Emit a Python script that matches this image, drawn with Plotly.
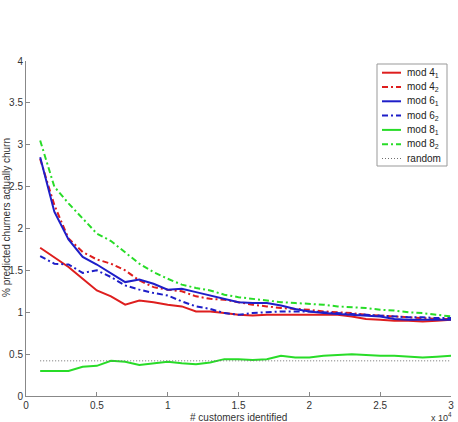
import plotly.graph_objects as go

customers = [1000, 2000, 3000, 4000, 5000, 6000, 7000, 8000, 9000, 10000,
             11000, 12000, 13000, 14000, 15000, 16000, 17000, 18000, 19000, 20000,
             21000, 22000, 23000, 24000, 25000, 26000, 27000, 28000, 29000, 30000]

mod4_1 = [1.77, 1.66, 1.54, 1.40, 1.26, 1.19, 1.09, 1.14, 1.12, 1.09,
          1.07, 1.01, 1.01, 0.99, 0.97, 0.96, 0.97, 0.97, 0.97, 0.97,
          0.97, 0.97, 0.95, 0.92, 0.91, 0.90, 0.90, 0.89, 0.90, 0.91]
mod4_2 = [2.83, 2.28, 1.88, 1.72, 1.63, 1.58, 1.50, 1.38, 1.30, 1.27,
          1.25, 1.19, 1.16, 1.15, 1.12, 1.09, 1.07, 1.05, 1.04, 1.03,
          1.01, 1.00, 0.99, 0.97, 0.96, 0.95, 0.94, 0.93, 0.92, 0.92]
mod6_1 = [2.85, 2.20, 1.87, 1.66, 1.57, 1.47, 1.36, 1.39, 1.34, 1.27,
          1.28, 1.24, 1.20, 1.16, 1.12, 1.11, 1.11, 1.08, 1.04, 1.01,
          0.99, 0.98, 0.97, 0.96, 0.95, 0.92, 0.91, 0.91, 0.91, 0.91]
mod6_2 = [1.67, 1.58, 1.57, 1.47, 1.50, 1.42, 1.32, 1.27, 1.23, 1.20,
          1.13, 1.07, 1.04, 0.99, 0.97, 0.99, 1.00, 1.01, 1.01, 1.01,
          1.00, 0.99, 0.98, 0.97, 0.96, 0.95, 0.94, 0.94, 0.93, 0.93]
mod8_1 = [0.30, 0.30, 0.30, 0.35, 0.36, 0.42, 0.41, 0.37, 0.39, 0.41,
          0.39, 0.38, 0.40, 0.44, 0.44, 0.43, 0.44, 0.48, 0.46, 0.46,
          0.48, 0.49, 0.50, 0.49, 0.48, 0.48, 0.47, 0.46, 0.47, 0.48]
mod8_2 = [3.05, 2.50, 2.30, 2.12, 1.94, 1.85, 1.72, 1.58, 1.48, 1.40,
          1.33, 1.29, 1.26, 1.21, 1.18, 1.16, 1.14, 1.12, 1.11, 1.10,
          1.09, 1.07, 1.06, 1.05, 1.03, 1.02, 1.00, 0.99, 0.97, 0.95]
random_x = [1000, 30000]
random_y = [0.42, 0.42]

x_tickvals = [0, 5000, 10000, 15000, 20000, 25000, 30000]
x_ticktext = ["0", "0.5", "1", "1.5", "2", "2.5", "3"]
y_tickvals = [0, 0.5, 1, 1.5, 2, 2.5, 3, 3.5, 4]
y_ticktext = ["0", "0.5", "1", "1.5", "2", "2.5", "3", "3.5", "4"]

RED = "rgb(222,30,30)"
BLUE = "rgb(30,30,200)"
GREEN = "rgb(40,220,40)"
GRAY = "rgb(110,110,110)"
DASHDOT = "6px,3px,2px,3px"
DOT = "1px,2px"

series = [
    ("mod 4<sub>1</sub>", customers, mod4_1, RED, "solid", 2),
    ("mod 4<sub>2</sub>", customers, mod4_2, RED, DASHDOT, 2),
    ("mod 6<sub>1</sub>", customers, mod6_1, BLUE, "solid", 2),
    ("mod 6<sub>2</sub>", customers, mod6_2, BLUE, DASHDOT, 2),
    ("mod 8<sub>1</sub>", customers, mod8_1, GREEN, "solid", 2),
    ("mod 8<sub>2</sub>", customers, mod8_2, GREEN, DASHDOT, 2),
    ("random", random_x, random_y, GRAY, DOT, 1),
]

fig = go.Figure()
for name, xs, ys, col, dash, w in series:
    fig.add_trace(go.Scatter(x=xs, y=ys, mode="lines", name=name,
                             line=dict(color=col, width=w, dash=dash),
                             showlegend=False))

# Plot area in pixels (for the hand-drawn legend box)
PL, PR, PT, PB = 26, 451, 61, 396
def px_x(p):
    return (p - PL) / (PR - PL)
def px_y(p):
    return (PB - p) / (PB - PT)

shapes = [dict(type="rect", xref="paper", yref="paper",
               x0=px_x(377), x1=px_x(447), y0=px_y(166), y1=px_y(64),
               line=dict(color="#999", width=1), fillcolor="white", layer="above")]
annotations = []
for i, (name, xs, ys, col, dash, w) in enumerate(series):
    yy = 72.7 + i * 14.3
    shapes.append(dict(type="line", xref="paper", yref="paper",
                       x0=px_x(382), x1=px_x(401), y0=px_y(yy), y1=px_y(yy),
                       line=dict(color=col, width=w, dash=dash), layer="above"))
    annotations.append(dict(text=name, xref="paper", yref="paper",
                            x=px_x(405), y=px_y(yy), xanchor="left", yanchor="middle",
                            showarrow=False, font=dict(size=10, color="#222")))

FONT = "Liberation Sans, Arial, sans-serif"
annotations += [
    dict(text="# customers identified", xref="paper", yref="paper",
         x=0.5, y=0, xanchor="center", yanchor="top", yshift=-14,
         showarrow=False, font=dict(size=10, color="#333")),
    dict(text="% predicted churners actually churn", xref="paper", yref="paper",
         x=0, y=px_y(218), xanchor="center", yanchor="middle", xshift=-19,
         textangle=-90, showarrow=False, font=dict(size=10, color="#333")),
    dict(text="x 10<sup>4</sup>", xref="paper", yref="paper",
         x=1, y=0, xanchor="right", yanchor="top", yshift=-13, xshift=3,
         showarrow=False, font=dict(size=9, color="#333")),
]

fig.update_layout(
    width=458, height=422,
    margin=dict(l=PL, r=458 - PR, t=PT, b=422 - PB),
    paper_bgcolor="white", plot_bgcolor="white",
    font=dict(family=FONT, size=10, color="#333"),
    showlegend=False,
    xaxis=dict(range=[0, 30000], tickvals=x_tickvals, ticktext=x_ticktext,
               ticks="inside", ticklen=4, tickcolor="#888",
               tickfont=dict(size=10),
               showline=True, linecolor="#888", linewidth=1,
               showgrid=False, zeroline=False, automargin=False),
    yaxis=dict(range=[0, 4], tickvals=y_tickvals, ticktext=y_ticktext,
               ticks="inside", ticklen=4, tickcolor="#888",
               tickfont=dict(size=10),
               showline=True, linecolor="#888", linewidth=1,
               showgrid=False, zeroline=False, automargin=False),
    shapes=shapes,
    annotations=annotations,
)

fig.write_html("out.html")
